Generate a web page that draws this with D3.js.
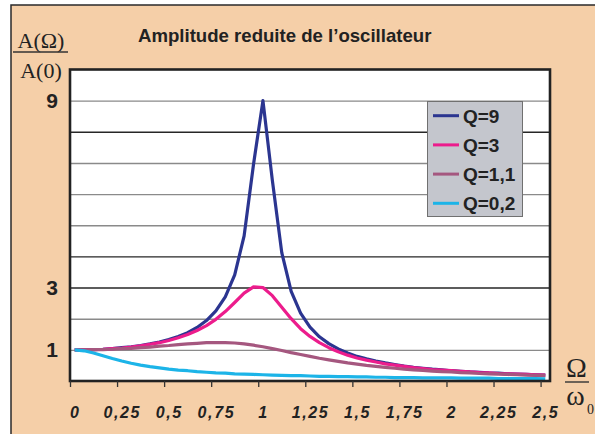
<!DOCTYPE html>
<html>
<head>
<meta charset="utf-8">
<script src="https://cdn.jsdelivr.net/npm/d3@7"></script>
<style>
  html, body { margin: 0; padding: 0; background: #ffffff; }
  svg { display: block; }
</style>
</head>
<body>
<div id="chart"></div>
<script>
// ---- Data ----
const categories = [0,0.05,0.1,0.15,0.2,0.25,0.3,0.35,0.4,0.45,0.5,0.55,0.6,0.65,0.7,0.75,0.8,0.85,0.9,0.95,
  1,1.05,1.1,1.15,1.2,1.25,1.3,1.35,1.4,1.45,1.5,1.55,1.6,1.65,1.7,1.75,1.8,1.85,1.9,1.95,
  2,2.05,2.1,2.15,2.2,2.25,2.3,2.35,2.4,2.45,2.5];

const q9  = [1.00,1.00,1.01,1.02,1.04,1.07,1.10,1.14,1.19,1.25,1.33,1.43,1.55,1.72,1.94,2.25,2.70,3.41,4.66,6.96,
  9.00,6.44,4.12,2.88,2.18,1.73,1.42,1.20,1.03,0.90,0.79,0.71,0.64,0.58,0.53,0.48,0.44,0.41,0.38,0.36,
  0.33,0.31,0.29,0.28,0.26,0.25,0.23,0.22,0.21,0.20,0.19];
const q3  = [1.00,1.00,1.01,1.02,1.04,1.06,1.09,1.13,1.18,1.23,1.30,1.39,1.49,1.62,1.78,1.98,2.23,2.52,2.82,3.02,
  3.00,2.74,2.37,2.00,1.68,1.43,1.23,1.07,0.94,0.83,0.74,0.67,0.61,0.55,0.51,0.47,0.43,0.40,0.37,0.35,
  0.33,0.31,0.29,0.27,0.26,0.24,0.23,0.22,0.21,0.20,0.19];
const q11 = [1.00,1.00,1.01,1.01,1.02,1.04,1.05,1.07,1.09,1.12,1.14,1.17,1.19,1.21,1.23,1.23,1.23,1.22,1.19,1.15,
  1.10,1.04,0.98,0.91,0.85,0.79,0.73,0.68,0.63,0.58,0.54,0.50,0.47,0.44,0.41,0.38,0.36,0.34,0.32,0.30,
  0.29,0.27,0.26,0.24,0.23,0.22,0.21,0.20,0.19,0.18,0.17];
const q02 = [1.00,0.97,0.90,0.81,0.72,0.64,0.57,0.51,0.46,0.42,0.38,0.35,0.33,0.30,0.28,0.26,0.25,0.23,0.22,0.21,
  0.20,0.19,0.18,0.17,0.17,0.16,0.15,0.15,0.14,0.14,0.13,0.13,0.12,0.12,0.11,0.11,0.11,0.10,0.10,0.10,
  0.10,0.09,0.09,0.09,0.09,0.08,0.08,0.08,0.08,0.08,0.07];

const seriesNames  = ["Q=9", "Q=3", "Q=1,1", "Q=0,2"];
const seriesValues = [q9, q3, q11, q02];
const seriesColors = ["#2b3590", "#ec1c8c", "#a5577f", "#1cb4e8"];

const xTickValues = [0,0.25,0.5,0.75,1,1.25,1.5,1.75,2,2.25,2.5];
const xTickLabels = ["0","0,25","0,5","0,75","1","1,25","1,5","1,75","2","2,25","2,5"];
const yLabelValues = [1,3,9];
const yGridValues  = [1,2,3,4,5,6,7,8,9];
const yGridDark    = [3,4,8];

// ---- Layout ----
const W = 595, H = 434;
const plot = {left: 70, right: 550, top: 69.5, bottom: 381};
const half = 0.025; // half category width (Excel "between tick marks")

const svg = d3.select("#chart").append("svg")
  .attr("width", W).attr("height", H);

// background frame
svg.append("rect").attr("x", 0).attr("y", 0).attr("width", W).attr("height", H).attr("fill", "#ffffff");
svg.append("rect").attr("x", 11).attr("y", 5).attr("width", 700).attr("height", 600)
  .attr("fill", "#f5cfa8").attr("stroke", "#2a2a2a").attr("stroke-width", 1.5);

const x = d3.scaleLinear().domain([categories[0] - half, categories[categories.length - 1] + half])
  .range([plot.left, plot.right]);
const y = d3.scaleLinear().domain([0, 10]).range([plot.bottom, plot.top]);

// plot area
svg.append("rect")
  .attr("x", plot.left).attr("y", plot.top)
  .attr("width", plot.right - plot.left).attr("height", plot.bottom - plot.top)
  .attr("fill", "#ffffff");

// gridlines
const grid = svg.append("g").attr("transform", `translate(${plot.left},0)`)
  .call(d3.axisLeft(y).tickValues(yGridValues).tickSize(-(plot.right - plot.left)).tickFormat(""));
grid.select(".domain").remove();
grid.selectAll(".tick line")
  .attr("stroke", d => yGridDark.includes(d) ? "#262626" : "#8a8a8a")
  .attr("stroke-width", 1.4);

// series lines
const line = d3.line().x((d, i) => x(categories[i])).y(d => y(d));
svg.append("g").selectAll("path").data(seriesValues).join("path")
  .attr("d", d => line(d))
  .attr("fill", "none")
  .attr("stroke", (d, i) => seriesColors[i])
  .attr("stroke-width", 3.2)
  .attr("stroke-linejoin", "round")
  .attr("stroke-linecap", "butt");

// plot border
svg.append("rect")
  .attr("x", plot.left).attr("y", plot.top)
  .attr("width", plot.right - plot.left).attr("height", plot.bottom - plot.top)
  .attr("fill", "none").attr("stroke", "#222222").attr("stroke-width", 2.6);

// x tick marks (at category boundaries)
const xMarks = svg.append("g").attr("transform", `translate(0,${plot.bottom})`)
  .call(d3.axisBottom(x).tickValues(xTickValues.map(v => v - half)).tickSize(6).tickFormat(""));
xMarks.select(".domain").remove();
xMarks.selectAll(".tick line").attr("stroke", "#333").attr("stroke-width", 1.3);

// x tick labels (at category centres)
const xLab = svg.append("g").attr("transform", `translate(0,${plot.bottom})`)
  .call(d3.axisBottom(x).tickValues(xTickValues).tickSize(0).tickPadding(0)
    .tickFormat((d, i) => xTickLabels[i]));
xLab.select(".domain").remove();
xLab.selectAll(".tick text")
  .attr("y", 37).attr("dy", 0)
  .attr("font-family", "'Liberation Sans', Arial, sans-serif")
  .attr("font-size", 16).attr("font-weight", "bold").attr("font-style", "italic")
  .attr("letter-spacing", "1.6px")
  .attr("fill", "#222");

// y labels
const yLab = svg.append("g").attr("transform", `translate(${plot.left},0)`)
  .call(d3.axisLeft(y).tickValues(yLabelValues).tickSize(0).tickPadding(12).tickFormat(d3.format("d")));
yLab.select(".domain").remove();
yLab.selectAll(".tick text")
  .attr("font-family", "'Liberation Sans', Arial, sans-serif")
  .attr("font-size", 21).attr("font-weight", "bold").attr("fill", "#222");

// title
svg.append("text").attr("x", 138).attr("y", 41.5)
  .attr("font-family", "'Liberation Sans', Arial, sans-serif")
  .attr("font-size", 18.6).attr("font-weight", "bold").attr("fill", "#222")
  .text("Amplitude reduite de l\u2019oscillateur");

// y-axis fraction label
const serif = "'Liberation Serif', 'DejaVu Serif', serif";
svg.append("text").attr("x", 41).attr("y", 47.5).attr("text-anchor", "middle")
  .attr("font-family", serif).attr("font-size", 22).attr("fill", "#222").text("A(\u03A9)");
svg.append("line").attr("x1", 13).attr("x2", 68).attr("y1", 52).attr("y2", 52)
  .attr("stroke", "#333").attr("stroke-width", 1.4);
svg.append("text").attr("x", 41).attr("y", 77.5).attr("text-anchor", "middle")
  .attr("font-family", serif).attr("font-size", 22).attr("fill", "#222").text("A(0)");

// x-axis fraction label
svg.append("text").attr("x", 576.5).attr("y", 377).attr("text-anchor", "middle")
  .attr("font-family", serif).attr("font-size", 28).attr("fill", "#222").text("\u03A9");
svg.append("line").attr("x1", 565).attr("x2", 589).attr("y1", 382).attr("y2", 382)
  .attr("stroke", "#333").attr("stroke-width", 1.4);
svg.append("text").attr("x", 575.5).attr("y", 405).attr("text-anchor", "middle")
  .attr("font-family", serif).attr("font-size", 28).attr("fill", "#222").text("\u03C9");
svg.append("text").attr("x", 587).attr("y", 414)
  .attr("font-family", serif).attr("font-size", 14).attr("fill", "#222").text("0");

// legend
const lg = svg.append("g");
lg.append("rect").attr("x", 427.5).attr("y", 101.5).attr("width", 95).attr("height", 115)
  .attr("fill", "#c4c6cd").attr("stroke", "#707070").attr("stroke-width", 1);
const items = lg.selectAll("g.item").data(seriesNames).join("g").attr("class", "item")
  .attr("transform", (d, i) => `translate(0,${115.7 + i * 29.2})`);
items.append("line").attr("x1", 433).attr("x2", 459).attr("y1", 0).attr("y2", 0)
  .attr("stroke", (d, i) => seriesColors[i]).attr("stroke-width", 3);
items.append("text").attr("x", 463).attr("y", 0).attr("dy", "0.36em")
  .attr("font-family", "'Liberation Sans', Arial, sans-serif")
  .attr("font-size", 19).attr("font-weight", "bold").attr("fill", "#222")
  .text(d => d);
</script>
</body>
</html>
